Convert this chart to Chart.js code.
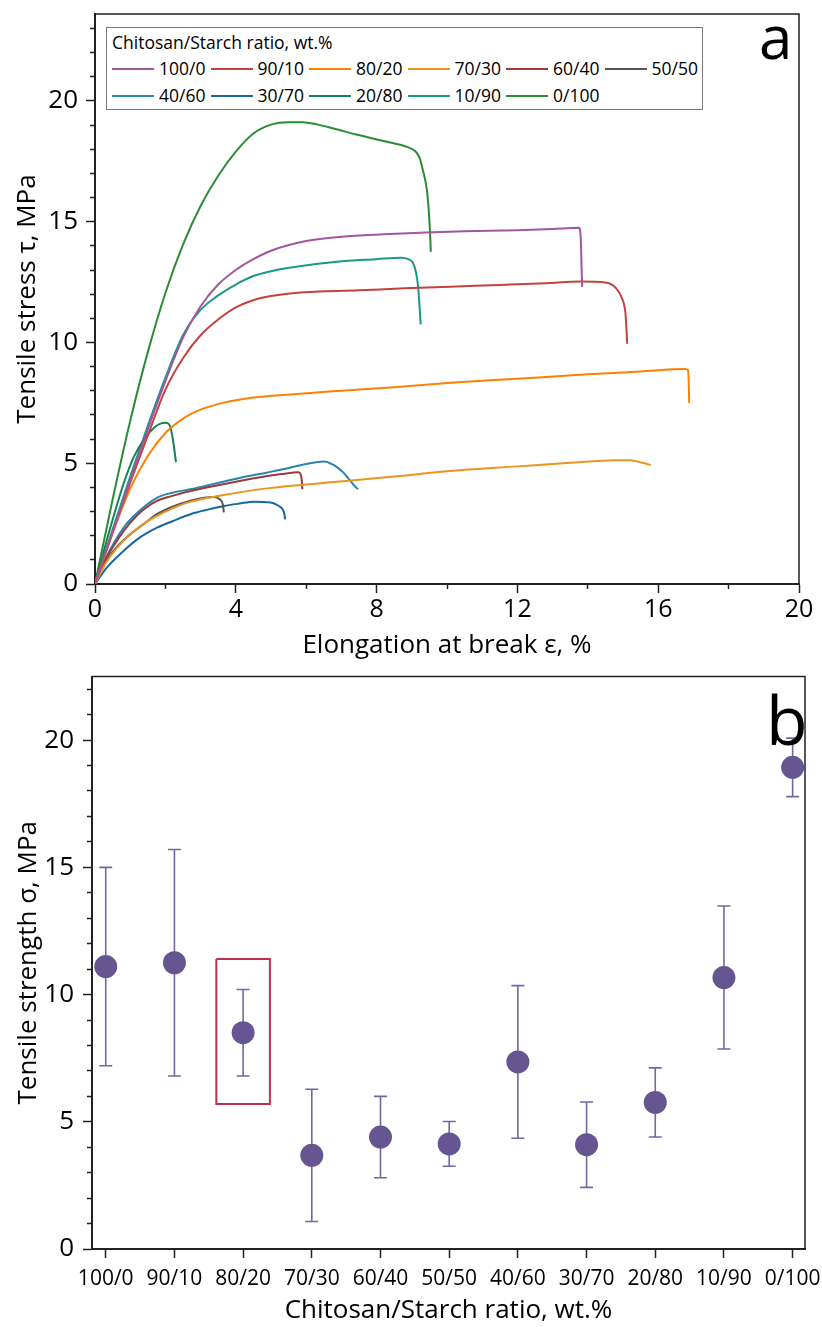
<!DOCTYPE html>
<html><head><meta charset="utf-8">
<script src="https://cdn.jsdelivr.net/npm/chart.js@4.4.0/dist/chart.umd.min.js"></script>
<style>
 body{margin:0;background:#fff;font-family:"Open Sans","DejaVu Sans",sans-serif;color:#000;}
 #wrap{position:relative;width:822px;height:1327px;overflow:hidden;}
 .panel{position:absolute;left:0;width:822px;}
 #pa{top:0;height:665px;}
 #pb{top:665px;height:662px;}
 .tag{position:absolute;line-height:1;}
 #legend{position:absolute;left:106px;top:27px;width:597px;height:83px;border:1px solid #777;box-sizing:border-box;background:#fff;padding:4px 0 0 5px;font-size:17.5px;line-height:1.2;}
 #legendItems{display:grid;grid-template-columns:repeat(6,98.5px);margin-top:2px;}
 .li{display:flex;align-items:center;height:27px;white-space:nowrap;}
 .li span{display:inline-block;width:42px;border-top:2px solid;margin-right:5px;}
</style>
</head>
<body>
<div id="wrap">
 <div class="panel" id="pa"><canvas id="chartA"></canvas></div>
 <div class="panel" id="pb"><canvas id="chartB"></canvas></div>
 <div id="legend"><div>Chitosan/Starch ratio, wt.%</div><div id="legendItems"></div></div>
 <div class="tag" style="left:759px;top:6px;font-size:60px;">a</div>
 <div class="tag" style="left:766px;top:685px;font-size:68px;">b</div>
</div>
<script>
// chitosan/starch ratios (series names, panel b categories)
const ratios = ['100/0', '90/10', '80/20', '70/30', '60/40', '50/50', '40/60', '30/70', '20/80', '10/90', '0/100'];

// panel a: stress-strain curves, [elongation %, stress MPa]
const c100_0 = [[0,0],[0.5,2.15],[1,4.3],[1.5,6.4],[2,8.4],[2.5,10.2],[3,11.5],[3.5,12.4],[4,13.0],[4.5,13.45],[5,13.8],[6,14.2],[7,14.38],[8.2,14.48],[9.4,14.55],[10.5,14.6],[12,14.65],[13,14.7],[13.75,14.75],[13.8,14.3],[13.82,13.3],[13.84,12.3]];
const c90_10 = [[0,0],[0.5,2.15],[1,4.2],[1.5,6.15],[2,8.05],[2.5,9.35],[3,10.3],[3.5,10.95],[4,11.45],[4.5,11.75],[5,11.92],[5.75,12.06],[7.5,12.16],[8.8,12.24],[10.1,12.31],[11.5,12.38],[12.8,12.45],[13.8,12.52],[14.5,12.48],[14.8,12.25],[14.98,11.8],[15.07,11.2],[15.1,10.5],[15.12,9.95]];
const c80_20 = [[0,0],[0.5,2.1],[1,3.95],[1.5,5.3],[2,6.25],[2.5,6.85],[3,7.22],[3.66,7.51],[4.5,7.72],[5.56,7.85],[7,8.0],[8.5,8.15],[10.1,8.33],[12,8.5],[14,8.68],[15.5,8.8],[16.75,8.9],[16.85,8.85],[16.87,8.2],[16.88,7.5]];
const c70_30 = [[0,0],[0.3,0.85],[0.6,1.45],[1,2.05],[1.5,2.6],[2,3.0],[2.7,3.4],[3.57,3.66],[5,3.98],[7.2,4.27],[8.5,4.45],[10.1,4.68],[12,4.87],[13.5,5.02],[14.8,5.12],[15.2,5.12],[15.55,5.02],[15.79,4.93]];
const c60_40 = [[0,0],[0.3,1.0],[0.81,2.19],[1.2,2.85],[1.76,3.44],[2.2,3.65],[2.71,3.85],[3.6,4.12],[4.61,4.4],[5.3,4.55],[5.78,4.63],[5.85,4.5],[5.88,4.2],[5.89,3.92]];
const c50_50 = [[0,0],[0.3,0.9],[0.6,1.5],[1,2.06],[1.4,2.5],[1.76,2.89],[2.2,3.2],[2.71,3.45],[3.1,3.57],[3.38,3.6],[3.55,3.5],[3.63,3.3],[3.66,2.97]];
const c40_60 = [[0,0],[0.3,1.05],[0.81,2.33],[1.2,2.95],[1.76,3.57],[2.2,3.78],[2.71,3.92],[3.4,4.15],[4.14,4.4],[4.9,4.62],[5.56,4.82],[6.1,5.0],[6.51,5.07],[6.75,4.95],[6.89,4.82],[7.05,4.62],[7.18,4.4],[7.35,4.1],[7.47,3.92]];
const c30_70 = [[0,0],[0.33,0.67],[0.81,1.37],[1.2,1.85],[1.76,2.33],[2.2,2.6],[2.71,2.89],[3.2,3.08],[3.66,3.23],[4.1,3.33],[4.52,3.41],[4.99,3.37],[5.2,3.25],[5.33,3.09],[5.38,2.9],[5.4,2.68]];
const c20_80 = [[0,0],[0.4,2.15],[0.8,4.1],[1.1,5.25],[1.4,6.0],[1.7,6.5],[1.9,6.66],[2.0,6.68],[2.1,6.62],[2.15,6.45],[2.22,5.92],[2.3,5.05]];
const c10_90 = [[0,0],[0.5,2.25],[1,4.45],[1.5,6.55],[2,8.55],[2.5,10.3],[3,11.35],[3.5,11.95],[4,12.4],[4.5,12.75],[5,12.95],[5.56,13.1],[7.08,13.37],[8.0,13.45],[8.7,13.51],[8.9,13.45],[9.03,13.3],[9.12,12.9],[9.18,12.3],[9.22,11.5],[9.25,10.75]];
const c0_100 = [[0,0],[0.5,3.5],[1,6.75],[1.5,9.6],[2,12.05],[2.5,14.05],[3,15.65],[3.5,16.9],[4,17.9],[4.5,18.65],[5,19.02],[5.5,19.12],[5.9,19.12],[6.3,19.03],[6.8,18.85],[7.4,18.62],[8.2,18.34],[8.9,18.08],[9.1,17.92],[9.22,17.65],[9.32,17.1],[9.42,16.4],[9.48,15.5],[9.52,14.5],[9.54,13.75]];
const curves = [c100_0, c90_10, c80_20, c70_30, c60_40, c50_50, c40_60, c30_70, c20_80, c10_90, c0_100];

// panel b: tensile strength mean and standard deviation, MPa
const strength = [11.1, 11.25, 8.5, 3.68, 4.4, 4.13, 7.35, 4.1, 5.76, 10.67, 18.93];
const strengthSd = [3.9, 4.45, 1.7, 2.6, 1.6, 0.88, 3.0, 1.68, 1.36, 2.81, 1.15];
// highlighted sample (80/20) and the stress band of its frame
const highlightIndex = 2;
const highlightRange = [5.7, 11.4];

const palette = ['#a2569f','#c3413f','#ff8000','#e99520','#963c3e','#555555','#2a85ad','#1569a0','#128455','#189a88','#2a8c35'];

Chart.defaults.font.family = '"Open Sans", "DejaVu Sans", sans-serif';
Chart.defaults.color = '#000';
Chart.defaults.animation = false;

// major ticks full length, minor ticks short (dash trick on the tick line)
function tickDash(isMajor, inward) {
  return {
    tickBorderDash: [9, 100],
    tickBorderDashOffset: ctx => isMajor(ctx.tick.value) ? 0 : (inward ? 105 : 5)
  };
}
// fixed axis box sizes, no extra label padding around the plot
const fixWidth = w => s => { s.width = w; s.paddingTop = 0; s.paddingBottom = 0; };
const fixHeight = h => s => { s.height = h; s.paddingLeft = 0; s.paddingRight = 0; };

const frame = {
  id: 'frame',
  afterDraw(chart) {
    const {ctx, chartArea: a} = chart;
    ctx.save();
    ctx.strokeStyle = '#222';
    ctx.lineWidth = 1.5;
    ctx.beginPath();
    ctx.moveTo(a.left, a.top);
    ctx.lineTo(a.right, a.top);
    ctx.lineTo(a.right, a.bottom);
    ctx.stroke();
    ctx.restore();
  }
};

const htmlLegend = {
  id: 'htmlLegend',
  afterUpdate(chart) {
    const box = document.getElementById('legendItems');
    box.innerHTML = '';
    chart.options.plugins.legend.labels.generateLabels(chart).forEach(item => {
      const el = document.createElement('div');
      el.className = 'li';
      const ln = document.createElement('span');
      ln.style.borderTopColor = item.strokeStyle;
      el.appendChild(ln);
      el.appendChild(document.createTextNode(item.text));
      box.appendChild(el);
    });
  }
};

const gridBase = {drawOnChartArea: false, tickLength: 9, tickColor: '#222', tickWidth: 1.5};

new Chart(document.getElementById('chartA'), {
  type: 'scatter',
  data: {
    datasets: curves.map((c, i) => ({
      label: ratios[i],
      data: c.map(p => ({x: p[0], y: p[1]})),
      showLine: true,
      borderColor: palette[i],
      backgroundColor: palette[i],
      borderWidth: 2,
      pointRadius: 0,
      cubicInterpolationMode: 'monotone'
    }))
  },
  options: {
    responsive: true,
    maintainAspectRatio: false,
    layout: {padding: {top: 14, right: 23, left: 0, bottom: 0}},
    plugins: {legend: {display: false}, tooltip: {enabled: false}},
    scales: {
      x: {
        type: 'linear', min: 0, max: 20,
        afterFit: fixHeight(81),
        border: {color: '#222', width: 2},
        grid: Object.assign({}, gridBase, tickDash(v => v % 4 === 0, false)),
        ticks: {stepSize: 2, autoSkip: false, includeBounds: false, maxRotation: 0, padding: 2, font: {size: 25},
                callback: v => v % 4 === 0 ? v : ''},
        title: {display: true, text: 'Elongation at break ε, %', font: {size: 26}, padding: {top: 0, bottom: 4}}
      },
      y: {
        type: 'linear', min: 0, max: 23.6,
        afterFit: fixWidth(95),
        border: {color: '#222', width: 2},
        grid: Object.assign({}, gridBase, tickDash(v => v % 5 === 0, true)),
        ticks: {stepSize: 1, autoSkip: false, includeBounds: false, padding: 8, font: {size: 26},
                callback: v => v % 5 === 0 ? v : ''},
        title: {display: true, text: 'Tensile stress τ, MPa', font: {size: 26}, padding: {top: 12, bottom: 0}}
      }
    }
  },
  plugins: [frame, htmlLegend]
});

const pointColor = '#655590';
const barColor = '#7565a2';

new Chart(document.getElementById('chartB'), {
  type: 'scatter',
  data: {
    datasets: [
      {
        label: 'Tensile strength',
        data: strength.map((v, i) => ({x: i, y: v})),
        pointRadius: 11.5,
        pointBackgroundColor: pointColor,
        pointBorderWidth: 0,
        order: 0
      },
      {
        type: 'line',
        label: 'SD',
        data: strength.flatMap((v, i) => [{x: i, y: v - strengthSd[i]}, {x: i, y: v + strengthSd[i]}, {x: i, y: null}]),
        borderColor: barColor,
        borderWidth: 1.6,
        pointStyle: 'line',
        pointRadius: 6.5,
        pointBorderColor: barColor,
        pointBorderWidth: 1.6,
        spanGaps: false,
        order: 1
      },
      {
        type: 'line',
        label: 'highlight',
        data: [
          {x: highlightIndex - 0.39, y: highlightRange[1]},
          {x: highlightIndex + 0.39, y: highlightRange[1]},
          {x: highlightIndex + 0.39, y: highlightRange[0]},
          {x: highlightIndex - 0.39, y: highlightRange[0]},
          {x: highlightIndex - 0.39, y: highlightRange[1]}
        ],
        borderColor: '#c0304a',
        borderWidth: 2,
        pointRadius: 0,
        tension: 0,
        order: 2
      }
    ]
  },
  options: {
    responsive: true,
    maintainAspectRatio: false,
    layout: {padding: {top: 10, right: 17, left: 0, bottom: 0}},
    plugins: {legend: {display: false}, tooltip: {enabled: false}},
    scales: {
      x: {
        type: 'linear', min: -0.2, max: 10.18,
        afterFit: fixHeight(78),
        border: {color: '#222', width: 2},
        grid: gridBase,
        ticks: {stepSize: 1, autoSkip: false, includeBounds: false, maxRotation: 0, padding: 8, font: {size: 21},
                callback: v => ratios[v]},
        title: {display: true, text: 'Chitosan/Starch ratio, wt.%', font: {size: 26}, padding: {top: 0, bottom: 1}}
      },
      y: {
        type: 'linear', min: 0, max: 22.5,
        afterFit: fixWidth(92),
        border: {color: '#222', width: 2},
        grid: Object.assign({}, gridBase, tickDash(v => v % 5 === 0, true)),
        ticks: {stepSize: 1, autoSkip: false, includeBounds: false, padding: 9, font: {size: 26},
                callback: v => v % 5 === 0 ? v : ''},
        title: {display: true, text: 'Tensile strength σ, MPa', font: {size: 26}, padding: {top: 13, bottom: 0}}
      }
    }
  },
  plugins: [frame]
});
</script>
</body></html>
